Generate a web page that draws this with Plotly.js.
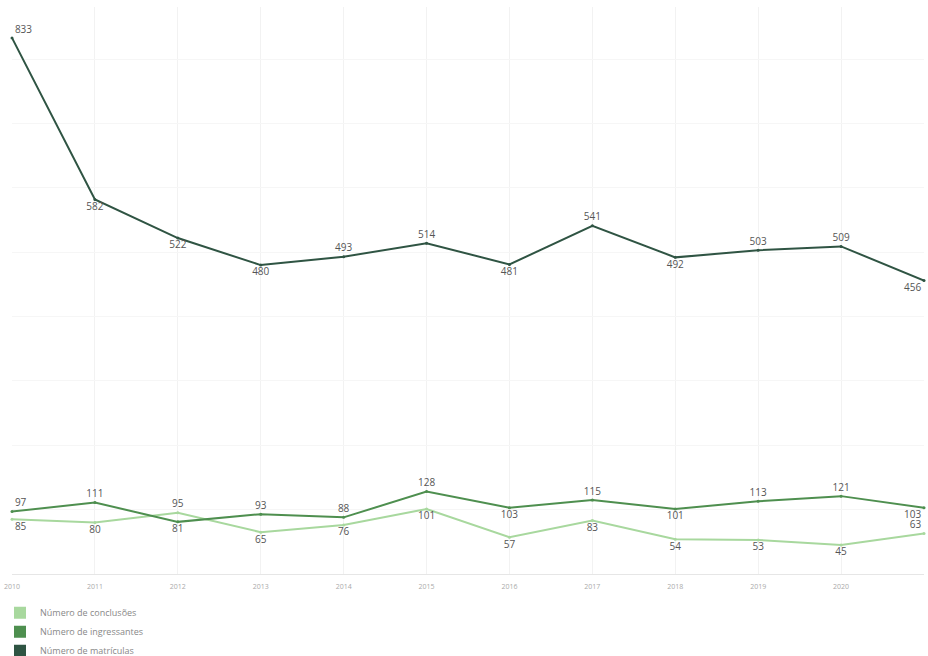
<!DOCTYPE html>
<html>
<head>
<meta charset="utf-8">
<script src="https://cdn.plot.ly/plotly-3.0.1.min.js"></script>
<style>html,body{margin:0;padding:0;background:#fff;}#chart{width:928px;height:656px;}</style>
</head>
<body>
<div id="chart"></div>
<script>
const years = [2010, 2011, 2012, 2013, 2014, 2015, 2016, 2017, 2018, 2019, 2020, 2021];
const matriculas = [833, 582, 522, 480, 493, 514, 481, 541, 492, 503, 509, 456];
const ingressantes = [97, 111, 81, 93, 88, 128, 103, 115, 101, 113, 121, 103];
const conclusoes = [85, 80, 95, 65, 76, 101, 57, 83, 54, 53, 45, 63];
const names = ["Número de conclusões", "Número de ingressantes", "Número de matrículas"];
const colors = ["#a8d89e", "#4e8f4f", "#2f5443"];

const posMat = ["top right","bottom center","bottom center","bottom center","top center","top center","bottom center","top center","bottom center","top center","top center","bottom left"];
const posIng = ["top right","top center","bottom center","top center","top center","top center","bottom center","top center","bottom center","top center","top center","bottom left"];
const posCon = ["bottom right","bottom center","top center","bottom center","bottom center","bottom center","bottom center","bottom center","bottom center","bottom center","bottom center","top left"];

function lineTrace(y, color, pos) {
  return {
    x: years, y: y, type: 'scatter', mode: 'lines+markers+text',
    text: y.map(String), textposition: pos,
    textfont: {family: 'Open Sans, sans-serif', size: 10, color: '#555'},
    line: {color: color, width: 2},
    marker: {color: color, size: 3},
    cliponaxis: false, showlegend: false, hoverinfo: 'x+y'
  };
}
function legendTrace(name, color) {
  return {x: [null], y: [null], type: 'scatter', mode: 'markers', name: name,
    marker: {symbol: 'square', size: 9, color: color}, showlegend: true};
}
const data = [
  lineTrace(conclusoes, colors[0], posCon),
  lineTrace(ingressantes, colors[1], posIng),
  lineTrace(matriculas, colors[2], posMat),
  legendTrace(names[0], colors[0]),
  legendTrace(names[1], colors[1]),
  legendTrace(names[2], colors[2])
];
const layout = {
  width: 928, height: 656,
  margin: {l: 12, r: 4, t: 7, b: 82, autoexpand: false},
  paper_bgcolor: '#fff', plot_bgcolor: '#fff',
  font: {family: 'Open Sans, sans-serif', color: '#999'},
  xaxis: {range: [2010, 2021], tickmode: 'array', tickvals: years, ticktext: years.map(String),
    showgrid: true, gridcolor: '#f2f2f2', zeroline: false, showline: true, linecolor: '#e6e6e6',
    tickfont: {size: 7, color: '#aaa'}, ticks: '', ticklabelstandoff: 6, fixedrange: true},
  yaxis: {range: [0, 881], showticklabels: false, showgrid: true, gridcolor: '#f6f6f6',
    dtick: 100, zeroline: false, showline: false},
  legend: {orientation: 'v', xref: 'container', x: 0, xanchor: 'left',
    yref: 'container', y: 0.088, yanchor: 'top',
    font: {size: 9, color: '#888'}, itemsizing: 'constant', tracegroupgap: 0},
  showlegend: true
};
Plotly.newPlot('chart', data, layout, {displayModeBar: false, staticPlot: true});
</script>
</body>
</html>
